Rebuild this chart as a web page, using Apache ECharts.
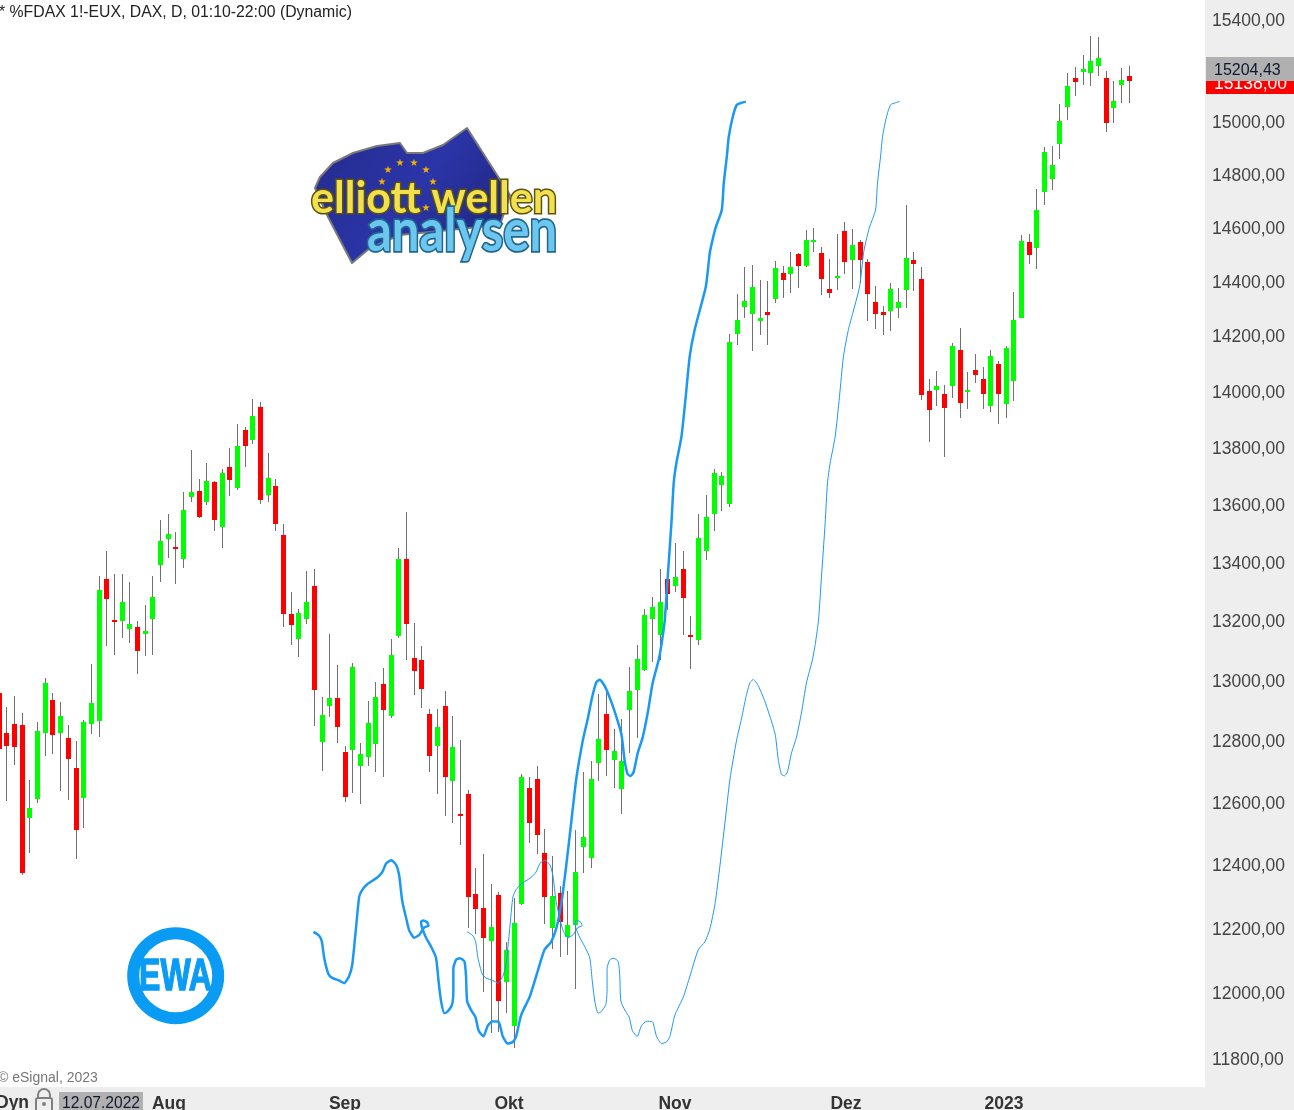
<!DOCTYPE html>
<html>
<head>
<meta charset="utf-8">
<title>FDAX</title>
<script src="https://cdn.jsdelivr.net/npm/echarts@6/dist/echarts.min.js"></script>
<style>
html, body { margin: 0; padding: 0; background: #fff; overflow: hidden; }
#chart { width: 1294px; height: 1110px; }
</style>
</head>
<body>
<div id="chart"></div>
<script>
// daily candles
var opens = [12957,12823,12853,12850,12548,12610,12823,12933,12823,12807,12710,12613,12853,12863,13341,13200,13197,13170,13177,13153,13203,13390,13479,13452,13410,13624,13646,13607,13677,13521,13730,13656,13861,13825,13943,13631,13663,13493,13221,13137,13203,13317,12794,12913,12940,12763,12770,12718,12747,12789,12987,12882,13146,13410,13073,13066,12886,12782,12915,12669,12560,12624,12307,12263,12160,12304,12031,11897,12276,12644,12673,12436,12198,12310,12171,12207,12456,12419,12727,12886,12737,12641,12899,12967,13033,13203,13150,13341,13317,13376,13150,13133,13438,13566,13667,13600,14207,14305,14280,14251,14284,14335,14430,14426,14500,14456,14544,14504,14371,14411,14585,14478,14544,14470,14324,14284,14291,14302,14367,14478,14407,14000,14004,13989,14018,14149,13996,14076,14044,13946,14098,13954,14036,14265,14544,14522,14732,14781,14915,15058,15169,15192,15188,15216,15169,15054,15142,15177];
var highs = [12960,12910,12947,12890,12671,12860,13007,12957,12927,12850,12797,12867,13053,13352,13438,13359,13359,13331,13197,13252,13352,13545,13566,13503,13642,13789,13688,13744,13681,13723,13796,13882,13871,13971,13961,13779,13688,13531,13297,13238,13369,13376,12943,13153,13050,12782,13057,12792,12929,12992,13040,13137,13448,13572,13192,13112,12902,12902,12962,12882,12802,12639,12388,12434,12339,12313,12156,12294,12691,12682,12718,12514,12427,12332,12316,12511,12698,12734,12952,12968,12836,12869,13043,13117,13238,13279,13376,13345,13466,13438,13214,13566,13632,13723,13712,14207,14353,14452,14459,14404,14400,14474,14456,14507,14504,14589,14596,14526,14482,14574,14619,14593,14552,14482,14382,14309,14393,14375,14683,14507,14452,14044,14073,14022,14171,14229,14069,14131,14087,14149,14109,14160,14360,14570,14574,14743,14904,14908,15069,15188,15212,15259,15333,15329,15196,15158,15208,15216];
var lows = [12639,12603,12719,12366,12435,12597,12748,12755,12636,12606,12416,12516,12820,12810,13113,13083,13140,13123,13020,13080,13083,13331,13414,13324,13379,13607,13552,13597,13507,13448,13628,13649,13730,13811,13600,13607,13507,13177,13117,13077,13187,12847,12700,12877,12792,12598,12630,12592,12718,12698,12682,12873,13140,13066,12950,12906,12698,12624,12553,12533,12463,12199,12181,12000,11876,11879,11936,11829,12270,12468,12434,12212,12135,12109,12116,12011,12371,12388,12669,12685,12644,12560,12759,12807,13030,13060,13067,13234,13297,13150,13037,13117,13407,13507,13576,13590,14167,14262,14142,14200,14164,14320,14338,14356,14375,14452,14507,14349,14338,14367,14426,14371,14393,14251,14222,14200,14218,14262,14302,14364,13968,13818,13946,13765,13975,13904,13936,14029,13936,13925,13882,13904,13964,14262,14463,14444,14683,14740,14858,15008,15100,15142,15138,15177,14962,14996,15073,15073];
var closes = [12771,12781,12777,12372,12581,12830,12990,12817,12880,12739,12510,12860,12923,13303,13272,13193,13262,13187,13097,13163,13279,13472,13497,13445,13579,13642,13555,13681,13545,13709,13684,13804,13804,13911,13614,13691,13531,13221,13183,13224,13262,12967,12883,12940,12845,12617,13042,12757,12858,12942,12900,13083,13408,13187,13029,12969,12750,12845,12682,12779,12553,12297,12260,12167,12203,11973,12132,12216,12682,12533,12495,12297,12301,12219,12207,12376,12488,12673,12806,12770,12766,12734,12962,13070,13217,13245,13262,13290,13348,13276,13143,13483,13555,13709,13698,14178,14258,14327,14378,14262,14273,14448,14404,14452,14456,14552,14552,14407,14356,14419,14470,14533,14478,14353,14280,14276,14371,14324,14485,14463,13986,13932,14018,13939,14160,13957,14004,14058,13989,14124,13989,14153,14258,14548,14496,14664,14883,14834,15004,15138,15154,15204,15235,15247,14996,15081,15162,15158];

// thick projection line: bar position, price (it loops back near bar 55)
var thickBars = [40.95,41.7,42.05,42.35,42.9,43.39,44.3,44.95,45.6,46,46.48,46.9,47.3,47.95,49.25,49.9,50.42,51.07,51.73,52.12,52.5,53.03,53.42,54.07,54.72,55.37,55.9,55.77,55.24,54.95,55.07,55.6,56.25,56.9,57.2,57.55,57.98,58.37,58.98,59.15,59.15,59.5,60.03,60.59,60.8,60.94,61.46,62.02,62.45,63.06,63.62,64.27,65.02,65.58,66.23,66.88,67.32,67.97,69.06,69.93,71.01,71.88,72.53,73.19,73.84,74.49,75.14,76,76.65,77.22,77.75,78.18,78.83,79.7,80.56,81.04,81.43,81.82,82.21,82.61,83.13,83.78,84.43,85.08,85.86,86.25,86.65,87.04,87.52,87.82,88.17,88.82,89.38,89.9,90.55,91.99,92.51,92.9,93.29,94.07,94.33,94.72,94.98,95.5,96.03,96.68,97.2];
var thickPrices = [12187,12175,12156,12106,12056,12044,12036,12028,12050,12085,12197,12297,12319,12337,12358,12375,12403,12413,12397,12362,12284,12228,12191,12169,12178,12201,12206,12216,12223,12219,12201,12169,12141,12106,12040,11973,11936,11940,11962,12006,12073,12100,12105,12095,12050,11973,11945,11924,11882,11865,11897,11911,11910,11865,11843,11848,11865,11930,11985,12050,12131,12156,12197,12275,12397,12535,12674,12801,12873,12944,12992,13001,12980,12927,12861,12817,12735,12690,12684,12697,12758,12810,12890,12990,13067,13123,13200,13348,13534,13674,13744,13836,13979,14124,14222,14378,14504,14556,14600,14664,14766,14865,14942,15019,15065,15073,15077];
// thin line, same shape 20 bars later
var thinBars = [60.95,61.7,62.05,62.35,62.9,63.39,64.3,64.95,65.6,66,66.48,66.9,67.3,67.95,69.25,69.9,70.42,71.07,71.73,72.12,72.5,73.03,73.42,74.07,74.72,75.37,75.9,75.77,75.24,74.95,75.07,75.6,76.25,76.9,77.2,77.55,77.98,78.37,78.98,79.15,79.15,79.5,80.03,80.59,80.8,80.94,81.46,82.02,82.45,83.06,83.62,84.27,85.02,85.58,86.23,86.88,87.32,87.97,89.06,89.93,91.01,91.88,92.53,93.19,93.84,94.49,95.14,96,96.65,97.22,97.75,98.18,98.83,99.7,100.56,101.04,101.43,101.82,102.21,102.61,103.13,103.78,104.43,105.08,105.86,106.25,106.65,107.04,107.52,107.82,108.17,108.82,109.38,109.9,110.55,111.99,112.51,112.9,113.29,114.07,114.33,114.72,114.98,115.5,116.03,116.68,117.2];
var thinPrices = thickPrices;

var priceTicks = [15400,15000,14800,14600,14400,14200,14000,13800,13600,13400,13200,13000,12800,12600,12400,12200,12000,11800];
var monthBars = [22.16,45.05,66.39,87.98,110.23,130.78];
var monthNames = ['Aug','Sep','Okt','Nov','Dez','2023'];

var lastPrice = '15138,00';
var crossPrice = '15204,43';
var crossDate = '12.07.2022';

function zipPoints(xs, ys) {
    var out = [];
    for (var i = 0; i < xs.length; i++) {
        out.push([xs[i], ys[i]]);
    }
    return out;
}

var candleData = [];
for (var i = 0; i < opens.length; i++) {
    candleData.push([i, opens[i], highs[i], lows[i], closes[i]]);
}

function renderCandle(params, api) {
    var i = api.value(0);
    var open = api.coord([i, api.value(1)]);
    var high = api.coord([i, api.value(2)]);
    var low = api.coord([i, api.value(3)]);
    var close = api.coord([i, api.value(4)]);
    var cx = Math.round(open[0]);
    var top = Math.round(Math.min(open[1], close[1]));
    var bottom = Math.round(Math.max(open[1], close[1]));
    return {
        type: 'group',
        children: [{
            type: 'line',
            shape: { x1: cx + 0.5, y1: Math.round(high[1]), x2: cx + 0.5, y2: Math.round(low[1]) },
            style: { stroke: '#707070', lineWidth: 1 }
        }, {
            type: 'rect',
            shape: { x: cx - 2, y: top, width: 5, height: Math.max(bottom - top, 2) },
            style: { fill: api.value(4) >= api.value(1) ? '#00ff00' : '#ff0000' }
        }]
    };
}

var sansFont = '"Liberation Sans", Arial, sans-serif';

function plainText(x, y, text, size, color, weight, z) {
    return {
        type: 'text', x: x, y: y, z: z || 50,
        style: { text: text, fontFamily: sansFont, fontSize: size, fontWeight: weight || 'normal', fill: color, verticalAlign: 'middle' }
    };
}

function star(x, y) {
    return {
        type: 'text', x: x, y: y, z: 11,
        style: { text: '\u2605', fontFamily: 'DejaVu Sans', fontSize: 10, fill: '#f0b400', align: 'center', verticalAlign: 'middle' }
    };
}

var graphics = [
    // axis strips
    { type: 'rect', z: -1, shape: { x: 1205, y: 0, width: 89, height: 1110 }, style: { fill: '#eeeeee' } },
    { type: 'rect', z: -1, shape: { x: 0, y: 1087, width: 1294, height: 23 }, style: { fill: '#eeeeee' } },
    // price tags
    { type: 'rect', z: 40, shape: { x: 1206, y: 70, width: 88, height: 24 }, style: { fill: '#ff0000' } },
    plainText(1214, 84, lastPrice, 17.5, '#ffffff', 'normal', 41),
    { type: 'rect', z: 42, shape: { x: 1206, y: 57, width: 88, height: 24 }, style: { fill: '#b0b0b0' } },
    plainText(1214, 71, crossPrice, 16, '#101830', 'normal', 43),
    // header and footer texts
    plainText(-1, 13, '* %FDAX 1!-EUX, DAX, D, 01:10-22:00 (Dynamic)', 15.8, '#222222'),
    plainText(-2, 1078, '\u00a9 eSignal, 2023', 14, '#777777'),
    plainText(-4, 1103, 'Dyn', 17.5, '#333333', 'bold'),
    { type: 'rect', z: 45, shape: { x: 59, y: 1092, width: 84, height: 18 }, style: { fill: '#b0b0b0' } },
    plainText(62, 1104, crossDate, 15.6, '#101830', 'normal', 46),
    // lock icon
    { type: 'rect', z: 45, shape: { x: 36, y: 1098, width: 16, height: 16, r: 2 }, style: { fill: 'none', stroke: '#808080', lineWidth: 2 } },
    { type: 'arc', z: 45, shape: { cx: 44, cy: 1095, r: 6, startAngle: Math.PI, endAngle: 0 }, style: { fill: 'none', stroke: '#808080', lineWidth: 2 } },
    { type: 'line', z: 45, shape: { x1: 38, y1: 1095, x2: 38, y2: 1098 }, style: { stroke: '#808080', lineWidth: 2 } },
    { type: 'line', z: 45, shape: { x1: 50, y1: 1095, x2: 50, y2: 1098 }, style: { stroke: '#808080', lineWidth: 2 } },
    { type: 'circle', z: 45, shape: { cx: 44, cy: 1104, r: 2 }, style: { fill: '#808080' } },
    // EWA badge
    { type: 'ring', z: 10, shape: { cx: 175.7, cy: 975.7, r: 48.5, r0: 36.5 }, style: { fill: '#0a9bf5' } },
    {
        type: 'text', x: 175.5, y: 977.5, z: 10, scaleY: 1.38,
        style: { text: 'EWA', fontFamily: sansFont, fontSize: 32, fontWeight: 'bold', fill: '#0a9bf5', stroke: '#0a9bf5', lineWidth: 1, align: 'center', verticalAlign: 'middle' }
    },
    // elliott wellen analysen logo
    {
        type: 'polygon', z: 10,
        shape: { points: [[315, 188], [320, 177], [333, 163], [353, 153], [377, 146], [400, 143], [407, 153], [423, 153], [443, 145], [467, 128], [497, 175], [510, 195], [500, 225], [400, 235], [370, 248], [352, 263], [328, 217]] },
        style: {
            stroke: '#7a7a7a', lineWidth: 2, lineJoin: 'round',
            fill: new echarts.graphic.LinearGradient(0, 0, 1, 1, [
                { offset: 0, color: '#232a8c' },
                { offset: 0.5, color: '#2c35a8' },
                { offset: 1, color: '#1c2278' }
            ])
        }
    },
    star(400, 163), star(414, 163), star(426, 170), star(433, 182), star(388, 170), star(382, 182), star(426, 208), star(387, 206),
    {
        type: 'text', x: 434, y: 199, z: 12,
        style: { text: 'elliott wellen', fontFamily: 'Lato', fontSize: 43, fontWeight: 'bold', fill: '#f2e04e', stroke: '#5a5210', lineWidth: 3, align: 'center', verticalAlign: 'middle' }
    },
    {
        type: 'text', x: 462, y: 232, z: 13, scaleY: 1.2,
        style: { text: 'analysen', fontFamily: 'Lato', fontSize: 49, fontWeight: 'bold', fill: '#6cc6ee', stroke: '#1f668f', lineWidth: 3, align: 'center', verticalAlign: 'middle' }
    }
];

var myChart = echarts.init(document.getElementById('chart'));

var option = {
    animation: false,
    backgroundColor: '#ffffff',
    grid: { left: 0, right: 89, top: 0, bottom: 23, containLabel: false, outerBoundsMode: 'none' },
    xAxis: {
        type: 'value',
        min: 0.177,
        max: 156.93,
        splitLine: { show: false },
        axisLine: { show: false },
        axisTick: { show: false },
        axisLabel: {
            customValues: monthBars,
            margin: 8,
            fontFamily: sansFont,
            fontSize: 17.5,
            fontWeight: 'bold',
            color: '#333333',
            hideOverlap: false,
            formatter: function (val) {
                return monthNames[monthBars.indexOf(val)];
            }
        }
    },
    yAxis: {
        type: 'log',
        position: 'right',
        min: 11712,
        max: 15475,
        splitLine: { show: false },
        minorTick: { show: false },
        axisLine: { show: false },
        axisTick: { show: false },
        axisLabel: {
            customValues: priceTicks,
            margin: 7,
            formatter: function (val) {
                return '{p|' + Math.round(val) + ',00}';
            },
            rich: {
                p: {
                    padding: [4, 0, 0, 0],
                    fontFamily: sansFont,
                    fontSize: 17.5,
                    color: '#444444'
                }
            }
        }
    },
    series: [{
        name: 'FDAX',
        type: 'custom',
        renderItem: renderCandle,
        clip: true,
        encode: { x: 0, y: [1, 2, 3, 4] },
        data: candleData,
        z: 2
    }, {
        name: 'projection thin',
        type: 'line',
        data: zipPoints(thinBars, thinPrices),
        showSymbol: false,
        smooth: 0.2,
        lineStyle: { color: '#1a98f5', width: 1 },
        z: 4
    }, {
        name: 'projection thick',
        type: 'line',
        data: zipPoints(thickBars, thickPrices),
        showSymbol: false,
        smooth: 0.2,
        lineStyle: { color: '#1a98f5', width: 2.5 },
        z: 5
    }],
    graphic: graphics
};

myChart.setOption(option);
</script>
</body>
</html>
